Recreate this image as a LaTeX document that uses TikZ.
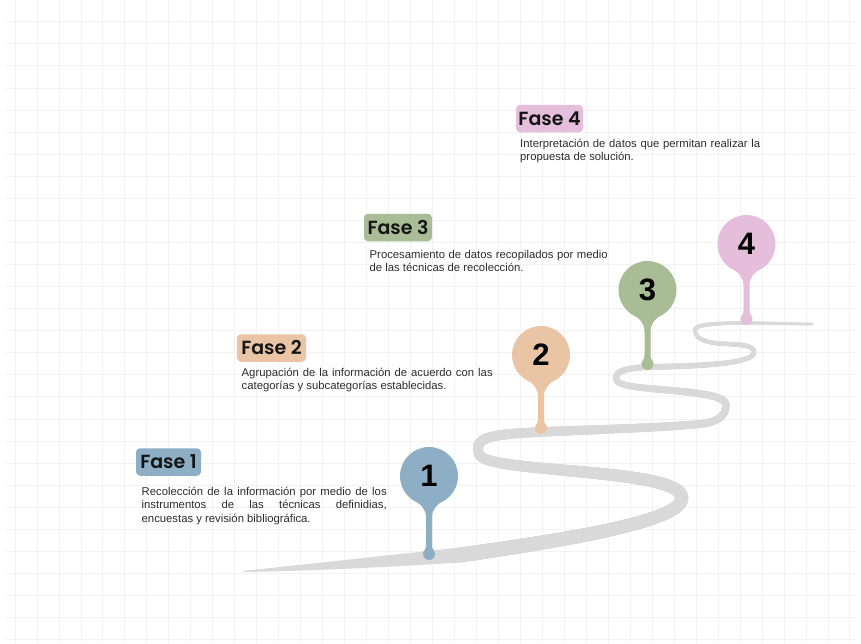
\documentclass[tikz,border=0pt]{standalone}
\usepackage{fontspec}
\setmainfont{Liberation Sans}
\newfontfamily\headfont{Poppins SemiBold}
\newfontfamily\numfont{Liberation Sans}
\usetikzlibrary{decorations.markings}
\definecolor{gridc}{RGB}{242,242,242}
\definecolor{roadc}{RGB}{217,217,217}
\definecolor{cone}{RGB}{142,174,197}
\definecolor{ctwo}{RGB}{233,196,165}
\definecolor{cthree}{RGB}{168,188,150}
\definecolor{cfour}{RGB}{228,190,218}
\definecolor{bodyc}{RGB}{45,45,45}
\newcommand\pinmark[6]{%
  \begin{scope}[shift={(#2,#3)}]
    \fill[#5] (-18,22) .. controls (-7,29) and (-3,33) .. (-3,42)
      -- (-3,{#4-9}) .. controls (-3,{#4-5}) and (-5,{#4-4}) .. (-5,#4)
      -- (5,#4) .. controls (5,{#4-4}) and (3,{#4-5}) .. (3,{#4-9})
      -- (3,42) .. controls (3,33) and (7,29) .. (18,22) -- cycle;
    \node[pindrop, fill=#5] (#1d) at (0,#4) {};
    \node[pincircle, fill=#5] (#1) at (0,0) {#6};
  \end{scope}}
\begin{document}
\begin{tikzpicture}[x=1pt,y=-1pt,
  gridline/.style={draw=gridc, line width=0.8pt},
  phase/.style={rounded corners=4pt, minimum height=27.5pt, inner sep=0pt,
    font=\headfont\fontsize{19}{21}\selectfont, text=black!92},
  desc/.style={anchor=north west, inner sep=0pt, align=justify,
    font=\fontsize{11.3}{13.6}\selectfont, text=bodyc},
  pincircle/.style={circle, minimum size=58pt, inner sep=0pt,
    font=\numfont\bfseries\fontsize{31}{31}\selectfont, text=black},
  pindrop/.style={circle, minimum size=12pt, inner sep=0pt},
  roadmark/.style={decorate, decoration={markings,
    mark=between positions 0 and 1 step 0.7pt with {%
      \pgfmathsetmacro\rr{7.5-6*\pgfkeysvalueof{/pgf/decoration/mark info/distance from start}/\pgfdecoratedpathlength}%
      \fill[roadc] (0,0) circle (\rr pt);}}}
]
\useasboundingbox (0,0) rectangle (861,643);
\fill[white] (0,0) rectangle (861,643);
% grid
\foreach \i in {0,...,38} \draw[gridline] ({15+21.97*\i},0) -- ({15+21.97*\i},643);
\foreach \j in {0,...,28} \draw[gridline] (5,{21.7+22.07*\j}) -- (856,{21.7+22.07*\j});
% road
\fill[roadc] (243,571) -- (460,547.5) -- (460,562.5) .. controls (390,567) and (310,571) .. (243,572) -- cycle;
\path[roadmark] (460,555) .. controls (580,538) and (682,520) .. (682,498)
  .. controls (682,478) and (600,474) .. (540,468)
  .. controls (480,462) and (478,458) .. (478,448)
  .. controls (478,436) and (500,434) .. (540,432)
  .. controls (580,430) and (660,428) .. (700,424)
  .. controls (720,422) and (726,414) .. (726,405)
  .. controls (726,396) and (700,393) .. (667,390)
  .. controls (634,387) and (616,386) .. (616,378)
  .. controls (616,370) and (630,368) .. (648,367)
  .. controls (700,366) and (754,364) .. (754,352)
  .. controls (754,343) and (730,345) .. (715,343)
  .. controls (700,341) and (695,336) .. (695,330)
  .. controls (695,324) and (720,323) .. (746,323)
  .. controls (770,323) and (790,324) .. (812,324);
% pins
\pinmark{pone}{429}{476}{78}{cone}{1}
\pinmark{ptwo}{541}{355}{73}{ctwo}{2}
\pinmark{pthree}{647.5}{290}{74}{cthree}{3}
\pinmark{pfour}{746.5}{244}{75}{cfour}{4}
% labels
\node[phase, fill=cone, minimum width=65pt] (fone) at (168.5,462) {Fase 1};
\node[phase, fill=ctwo, minimum width=69pt] (ftwo) at (271.5,348) {Fase 2};
\node[phase, fill=cthree, minimum width=68pt] (fthree) at (398,227.5) {Fase 3};
\node[phase, fill=cfour, minimum width=67pt] (ffour) at (549.5,118.5) {Fase 4};
\node[desc, text width=245pt] (tone) at (141.5,486.5) {Recolección de la información por medio de los\linebreak instrumentos de las técnicas definidias,\linebreak encuestas y revisión bibliográfica.};
\node[desc, text width=251pt] (ttwo) at (241.5,367.5) {Agrupación de la información de acuerdo con las\linebreak categorías y subcategorías establecidas.};
\node[desc, text width=238pt] (tthree) at (369.5,250) {Procesamiento de datos recopilados por medio\linebreak de las técnicas de recolección.};
\node[desc, text width=240pt] (tfour) at (520,138.5) {Interpretación de datos que permitan realizar la\linebreak propuesta de solución.};
\end{tikzpicture}
\end{document}
